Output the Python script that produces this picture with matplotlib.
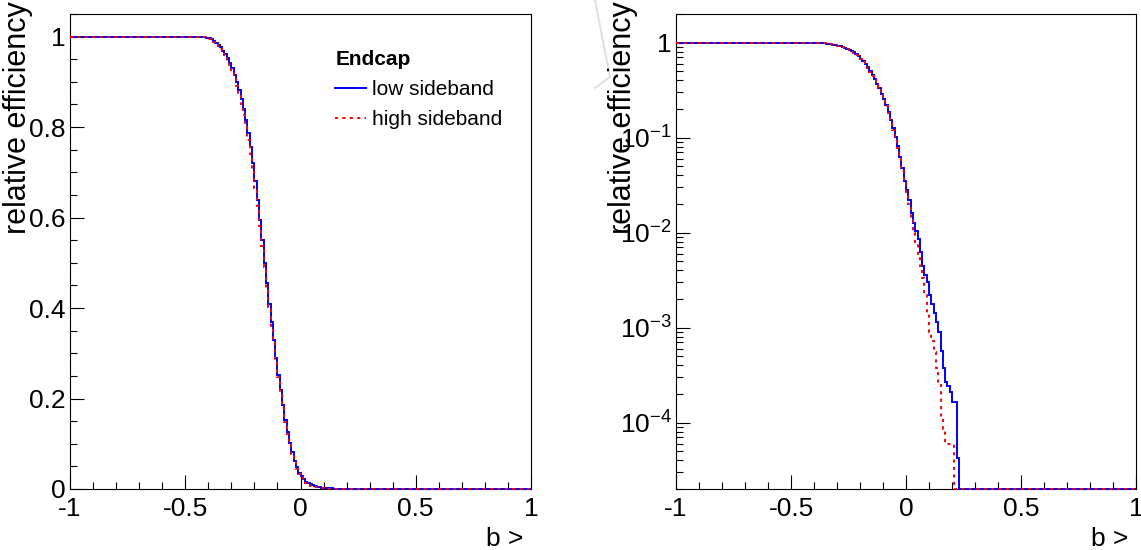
import numpy as np
import matplotlib
matplotlib.use("Agg")
import matplotlib.pyplot as plt
from matplotlib.ticker import MultipleLocator, FixedLocator, FuncFormatter, LogLocator, NullFormatter
from matplotlib.lines import Line2D

plt.rcParams['font.family'] = ['Liberation Sans', 'DejaVu Sans']
plt.rcParams['mathtext.default'] = 'regular'
plt.rcParams['axes.unicode_minus'] = False

# histogram binning (200 bins of 0.01 from -1 to 1)
bin_edges = np.linspace(-1, 1, 201)
n_flat_left = 55  # bins from -1 to -0.45 are at 1

# relative efficiency per bin, bins starting at -0.45 up to 0.23
low_sideband = [
    1.0, 1.0, 1.0, 0.999, 0.998, 0.996, 0.994, 0.991, 0.987, 0.982,
    0.976, 0.969, 0.961, 0.952, 0.942, 0.930, 0.916, 0.900, 0.882, 0.862,
    0.840, 0.815, 0.787, 0.755, 0.721, 0.680, 0.639, 0.595, 0.550, 0.500,
    0.455, 0.410, 0.370, 0.330, 0.290, 0.253, 0.219, 0.185, 0.153, 0.125,
    0.101, 0.081, 0.063, 0.048, 0.035, 0.028, 0.022, 0.016, 0.0125, 0.0105,
    0.0085, 0.0062, 0.0045, 0.0036, 0.0030, 0.0022, 0.00176, 0.00144, 0.00115, 0.00089,
    0.00057, 0.00038, 0.00027, 0.00024, 0.00021, 0.000165, 0.000165, 0.000042, 0.0,
]
high_sideband = [
    1.0, 1.0, 1.0, 0.999, 0.997, 0.995, 0.992, 0.989, 0.985, 0.979,
    0.973, 0.965, 0.956, 0.946, 0.935, 0.922, 0.907, 0.890, 0.871, 0.850,
    0.827, 0.801, 0.772, 0.740, 0.705, 0.666, 0.625, 0.581, 0.537, 0.490,
    0.445, 0.402, 0.361, 0.322, 0.284, 0.247, 0.213, 0.180, 0.149, 0.121,
    0.097, 0.077, 0.060, 0.045, 0.034, 0.027, 0.020, 0.0135, 0.0098, 0.0075,
    0.0058, 0.0044, 0.0033, 0.0022, 0.00144, 0.00089, 0.00072, 0.00055, 0.00038, 0.00025,
    0.000115, 0.000085, 0.00006, 0.00006, 0.00006, 0.00006, 0.0, 0.0, 0.0,
]

legend_title = "Endcap"
series_labels = ["low sideband", "high sideband"]


def full_hist(vals):
    n_right = len(bin_edges) - 1 - n_flat_left - len(vals)
    return np.concatenate([np.ones(n_flat_left), vals, np.zeros(n_right)])


h_low = full_hist(low_sideband)
h_high = full_hist(high_sideband)

W, H = 1141, 550
fig = plt.figure(figsize=(W / 100, H / 100), dpi=100)


def px_axes(left, right, top, bottom):
    return fig.add_axes([left / W, 1 - bottom / H, (right - left) / W, (bottom - top) / H])


ax1 = px_axes(70, 531, 14, 489)
ax2 = px_axes(676, 1136, 14, 489)

blue = (0.0, 0.0, 1.0)
red = (1.0, 0.0, 0.0)
dash = (0, (1.6, 2.2))

for ax, logy in [(ax1, False), (ax2, True)]:
    if logy:
        ymin = 2e-5
        ax.set_yscale('log')
        ax.set_ylim(ymin, 2)
        lo = np.maximum(h_low, ymin)
        hi = np.maximum(h_high, ymin)
    else:
        ax.set_ylim(0, 1.05)
        lo, hi = h_low, h_high
    ax.stairs(lo, bin_edges, baseline=None, color=blue, lw=1.4, clip_on=False, zorder=3)
    ax.stairs(hi, bin_edges, baseline=None, color=red, lw=1.4, ls=dash, clip_on=False, zorder=4)
    ax.set_xlim(-1, 1)

    for s in ax.spines.values():
        s.set_linewidth(0.8)
    ax.xaxis.set_major_locator(FixedLocator([-1, -0.5, 0, 0.5, 1]))
    ax.xaxis.set_minor_locator(MultipleLocator(0.1))
    ax.xaxis.set_major_formatter(FuncFormatter(lambda v, p: '%g' % v))
    ax.tick_params(which='both', direction='in', top=False, right=False, labelsize=19)
    ax.tick_params(which='major', length=10, width=0.8)
    ax.tick_params(which='minor', length=5, width=0.8)
    ax.tick_params(axis='x', pad=6)
    ax.tick_params(axis='y', pad=3)

ax1.yaxis.set_major_locator(MultipleLocator(0.2))
ax1.yaxis.set_minor_locator(MultipleLocator(0.05))
ax1.yaxis.set_major_formatter(FuncFormatter(lambda v, p: '%g' % round(v, 2)))


def log_fmt(v, p):
    e = int(round(np.log10(v)))
    if e == 0:
        return '1'
    return r'$10^{%d}$' % e


ax2.yaxis.set_major_locator(LogLocator(base=10, numticks=10))
ax2.yaxis.set_minor_locator(LogLocator(base=10, subs=np.arange(2, 10), numticks=20))
ax2.yaxis.set_major_formatter(FuncFormatter(log_fmt))
ax2.yaxis.set_minor_formatter(NullFormatter())

# y titles (top aligned, ROOT style) and x titles
fig.text(18 / W, 1 - 1 / H, "relative efficiency", rotation=90, ha='center', va='top', fontsize=22)
fig.text(623 / W, 1 - 1 / H, "relative efficiency", rotation=90, ha='center', va='top', fontsize=22)
fig.text(523 / W, 4 / H, "b >", ha='right', va='baseline', fontsize=19)
fig.text(1128 / W, 4 / H, "b >", ha='right', va='baseline', fontsize=19)

handles = [Line2D([], [], color=blue, lw=1.4), Line2D([], [], color=red, lw=1.4, ls=dash)]
leg = ax1.legend(handles, series_labels, title=legend_title, loc='upper left',
                 bbox_to_anchor=(325 / W, 1 - 40 / H), bbox_transform=fig.transFigure,
                 frameon=False, fontsize=15, handlelength=1.45, handletextpad=0.3,
                 labelspacing=0.52, alignment='left', borderpad=0.0,
                 title_fontproperties={'weight': 'bold', 'size': 15})

# faint grey stroke near the top centre
fig.add_artist(Line2D([595 / W, 610 / W, 595 / W], [1.0, 1 - 77 / H, 1 - 88 / H],
                      color='#dddddd', lw=1.3, transform=fig.transFigure))

fig.savefig("out.png", dpi=100)
